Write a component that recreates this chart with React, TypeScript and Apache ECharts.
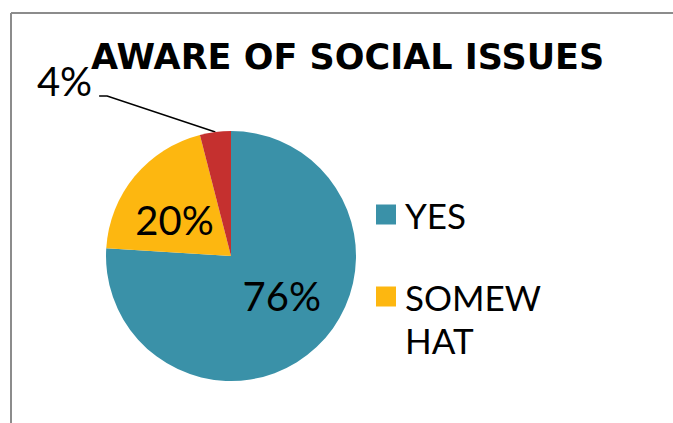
import React, { useEffect, useRef } from "react";
import * as echarts from "echarts";

const titleText = "AWARE OF SOCIAL ISSUES";
const categories = ["YES", "SOMEWHAT", "NO"];
const values = [76, 20, 4];
const labels = ["76%", "20%", "4%"];
const colors = ["#3A91A8", "#FDB710", "#C5302F"];
const legendItems = ["YES", "SOMEWHAT"];

export default function App() {
  const ref = useRef<HTMLDivElement>(null);
  useEffect(() => {
    if (!ref.current) return;
    const chart = echarts.init(ref.current, null, { renderer: "svg" });
    const labelFont = "Lato, 'Open Sans', sans-serif";
    chart.setOption({
      animation: false,
      backgroundColor: "#ffffff",
      title: {
        text: titleText,
        left: 86,
        top: 34,
        textStyle: {
          fontFamily: "'DejaVu Sans', sans-serif",
          fontWeight: "bold",
          fontSize: 35,
          color: "#000000",
        },
      },
      legend: {
        orient: "vertical",
        left: 376,
        top: 193,
        padding: 0,
        itemWidth: 20,
        itemHeight: 20,
        itemGap: -4,
        icon: "rect",
        selectedMode: false,
        data: legendItems,
        formatter: (name: string) => (name.length > 5 ? "\n" + name : name),
        textStyle: {
          fontFamily: labelFont,
          fontSize: 35,
          lineHeight: 43,
          color: "#000000",
          width: 138,
          overflow: "breakAll",
          padding: [0, 0, 0, 4],
        },
      },
      graphic: [
        {
          type: "line",
          shape: { x1: 11, y1: 13, x2: 673, y2: 13 },
          style: { stroke: "#8c8c8c", lineWidth: 2 },
        },
        {
          type: "line",
          shape: { x1: 11, y1: 13, x2: 11, y2: 423 },
          style: { stroke: "#8c8c8c", lineWidth: 2 },
        },
      ],
      series: [
        {
          type: "pie",
          center: [231, 256],
          radius: 125,
          startAngle: 90,
          clockwise: true,
          data: categories.map((c, i) => ({
            name: c,
            value: values[i],
            itemStyle: { color: colors[i] },
            label:
              i === 2
                ? {
                    show: true,
                    position: "outside",
                    formatter: "{p|" + labels[i] + "}",
                    rich: {
                      p: {
                        fontFamily: labelFont,
                        fontSize: 40,
                        color: "#000000",
                        padding: [0, 7, 30, 0],
                        backgroundColor: "rgba(255,255,255,0)",
                      },
                    },
                  }
                : {
                    show: true,
                    position: "inside",
                    formatter: labels[i],
                    fontFamily: labelFont,
                    fontSize: 40,
                    color: "#000000",
                  },
            labelLine:
              i === 2
                ? {
                    show: true,
                    length: 20,
                    length2: 8,
                    lineStyle: { color: "#000000", width: 1.5 },
                  }
                : { show: false },
          })),
          labelLayout: (params: any) => {
            if (params.dataIndex === 2)
              return { x: 68, y: 96, align: "center", verticalAlign: "middle" };
            if (params.dataIndex === 0) return { dx: 6, dy: -8 };
            return { dx: -6, dy: 6 };
          },
          emphasis: { disabled: true },
        },
      ],
    });
    return () => chart.dispose();
  }, []);
  return (
    <div
      ref={ref}
      style={{ position: "fixed", left: 0, top: 0, width: 673, height: 423 }}
    />
  );
}
